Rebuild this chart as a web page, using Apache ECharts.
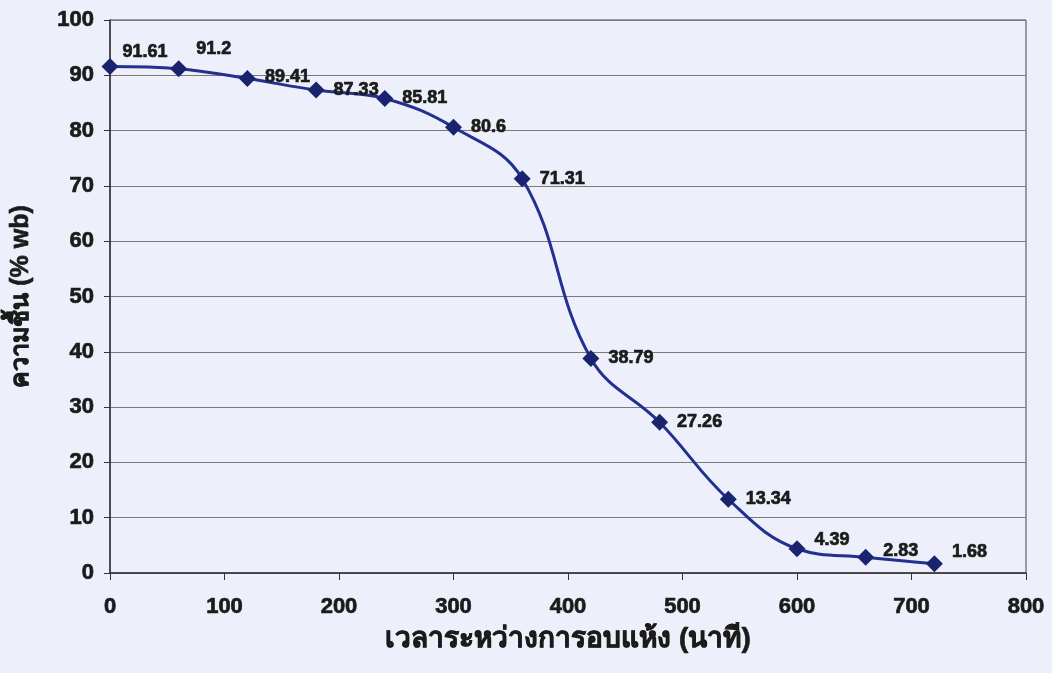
<!DOCTYPE html>
<html>
<head>
<meta charset="utf-8">
<script src="https://cdn.jsdelivr.net/npm/echarts@6/dist/echarts.min.js"></script>
<style>
  html, body { margin: 0; padding: 0; background: #edf0fa; }
  #chart { width: 1052px; height: 673px; }
</style>
</head>
<body>
<div id="chart"></div>
<script>
// Drying time (minutes) and moisture content (% wet basis)
const dryingMinutes = [0, 60, 120, 180, 240, 300, 360, 420, 480, 540, 600, 660, 720];
const moistureWb = [91.61, 91.2, 89.41, 87.33, 85.81, 80.6, 71.31, 38.79, 27.26, 13.34, 4.39, 2.83, 1.68];
const xTicks = [0, 100, 200, 300, 400, 500, 600, 700, 800];
const yTicks = [0, 10, 20, 30, 40, 50, 60, 70, 80, 90, 100];
const xTitle = 'เวลาระหว่างการอบแห้ง (นาที)';
const yTitle = 'ความชื้น (% wb)';

// Labels that sit a bit higher than their marker so they clear the curve
const labelLift = { 0: -14, 1: -20, 2: -2, 10: -9, 11: -6, 12: -12 };
const labelNudgeX = { 0: -5 };

const font = '"Liberation Sans", Arial, "Noto Sans", "DejaVu Sans", sans-serif';
const ink = '#1b1b1b';
// a thin outline in the text colour gives the heavier weight of the printed labels
const heavy = { fontFamily: font, fontWeight: 'bold', color: ink, textBorderColor: ink, textBorderWidth: 0.7 };

const points = dryingMinutes.map((t, i) => ({
  value: [t, moistureWb[i]],
  label: { offset: [labelNudgeX[i] || 0, labelLift[i] || 0] }
}));

const chart = echarts.init(document.getElementById('chart'), null, { renderer: 'canvas' });
chart.setOption({
  backgroundColor: '#edf0fa',
  animation: false,
  grid: {
    left: 110, right: 26, top: 20, bottom: 100,
    show: true, borderColor: '#444', borderWidth: 1, backgroundColor: 'transparent'
  },
  xAxis: {
    type: 'value',
    min: xTicks[0], max: xTicks[xTicks.length - 1], interval: 100,
    name: xTitle, nameLocation: 'middle', nameGap: 52,
    nameTextStyle: Object.assign({}, heavy, { fontSize: 28 }),
    axisLine: { show: true, lineStyle: { color: '#333', width: 1.5 } },
    axisTick: { show: true, length: 7, lineStyle: { color: '#333' } },
    axisLabel: Object.assign({ margin: 23, fontSize: 22 }, heavy),
    splitLine: { show: false }
  },
  yAxis: {
    type: 'value',
    min: yTicks[0], max: yTicks[yTicks.length - 1], interval: 10,
    name: yTitle, nameLocation: 'middle', nameGap: 76, nameRotate: 90,
    nameTextStyle: Object.assign({}, heavy, { fontSize: 25 }),
    axisLine: { show: true, lineStyle: { color: '#333', width: 1.5 } },
    axisTick: { show: true, length: 6, lineStyle: { color: '#333' } },
    axisLabel: Object.assign({ margin: 16, fontSize: 22 }, heavy),
    splitLine: { show: true, lineStyle: { color: '#7a7a7a', width: 1.2 } }
  },
  series: [{
    type: 'line',
    data: points,
    smooth: 0.4,
    symbol: 'diamond',
    symbolSize: 17,
    lineStyle: { color: '#24308f', width: 3 },
    itemStyle: { color: '#1a246e' },
    label: Object.assign({
      show: true, position: 'right', distance: 9, fontSize: 18,
      formatter: p => String(p.value[1])
    }, heavy),
    z: 5
  }]
});
</script>
</body>
</html>
